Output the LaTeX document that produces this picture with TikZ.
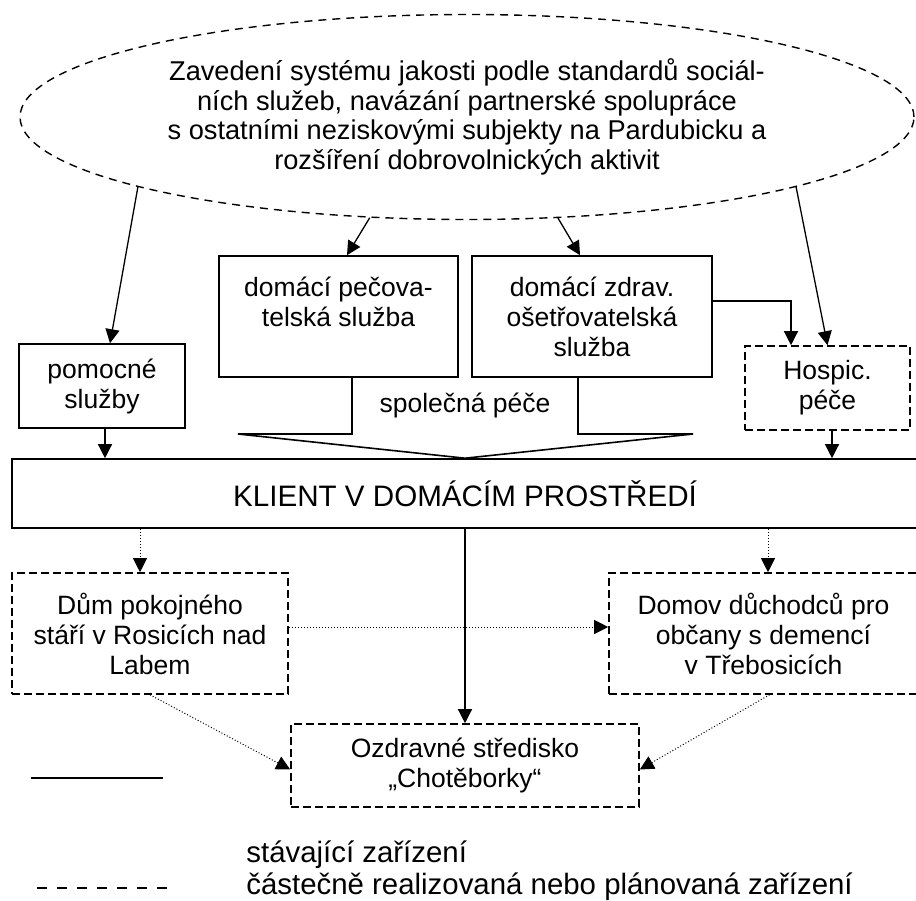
\documentclass[tikz,border=0pt]{standalone}
\usepackage{fontspec}
\setmainfont{Liberation Sans}
\usepackage{tikz}
\usetikzlibrary{positioning,arrows.meta,shapes.geometric}

\begin{document}
\begin{tikzpicture}[
  x=0.5pt, y=-0.5pt,
  font=\fontsize{13.25}{15}\selectfont,
  box/.style={draw, rectangle, line width=0.8pt, align=center, inner sep=0pt},
  plan/.style={box, dash pattern=on 4pt off 2pt},
  arr/.style={-{Triangle[length=7pt, width=7pt]}, line width=0.65pt},
  dots/.style={-{Triangle[length=7pt, width=7pt]}, line width=0.5pt, dash pattern=on 0.5pt off 1pt},
  legtext/.style={anchor=west, inner sep=0pt, font=\fontsize{14.7}{16}\selectfont}
]
\useasboundingbox (0,0) rectangle (916,900);

% Goal
\node[draw, ellipse, dash pattern=on 4pt off 3pt, line width=0.7pt, minimum width=447pt, minimum height=102.5pt, inner sep=0pt, align=center, font=\fontsize{13.6}{14.8}\selectfont] (goal) at (467,117) {Zavedení systému jakosti podle standardů sociál-\\ních služeb, navázání partnerské spolupráce\\s~ostatními neziskovými subjekty na Pardubicku a\\rozšíření dobrovolnických aktivit};

% Services
\node[box, minimum width=119.5pt, minimum height=60.5pt] (pecova) at (338.5,316.5) {domácí pečova-\\telská služba\\~};
\node[box, minimum width=120pt, minimum height=60.5pt] (zdrav) at (592,316.5) {domácí zdrav.\\ošetřovatelská\\služba};
\node[box, minimum width=83pt, minimum height=42pt] (pomocne) at (102,386) {pomocné\\služby};
\node[plan, minimum width=82.5pt, minimum height=42pt] (hospic) at (827.5,388) {Hospic.\\péče};
\node (spol) at (465,405) {společná péče};

% Client
\node[box, minimum width=453pt, minimum height=34.5pt, font=\fontsize{14.8}{18}\selectfont] (klient) at (465,493.5) {KLIENT V DOMÁCÍM PROSTŘEDÍ};

% Facilities
\node[plan, minimum width=138pt, minimum height=60.5pt] (dum) at (150,633.5) {Dům pokojného\\stáří v~Rosicích nad\\Labem};
\node[plan, minimum width=154.5pt, minimum height=60.5pt] (domov) at (763.5,633.5) {Domov důchodců pro\\občany s~demencí\\v~Třebosicích};
\node[plan, minimum width=174pt, minimum height=41.5pt] (ozdrav) at (465,765.5) {Ozdravné středisko\\„Chotěborky“};

% shared care
\draw[line width=0.8pt] ([xshift=6.75pt]pecova.south) -- (352,434) -- (238,434) -- (klient.north)
  -- (693,434) -- (578,434) -- ([xshift=-7pt]zdrav.south);

\draw[arr] (goal.192) -- ([xshift=4pt]pomocne.north);
\draw[arr] (goal.226) -- ([xshift=4.25pt]pecova.north);
\draw[arr] (goal.312) -- ([xshift=-6pt]zdrav.north);
\draw[arr] (goal.348) -- (hospic.north);
\draw[arr] ([yshift=7.75pt]zdrav.east) -| ([xshift=-18.25pt]hospic.north);
\draw[arr] ([xshift=1.5pt]pomocne.south) -- ([xshift=1.5pt]pomocne.south |- klient.north);
\draw[arr] ([xshift=2.25pt]hospic.south) -- ([xshift=2.25pt]hospic.south |- klient.north);

\draw[dots] ([xshift=-5pt]dum.north |- klient.south) -- ([xshift=-5pt]dum.north);
\draw[dots] ([xshift=2.25pt]domov.north |- klient.south) -- ([xshift=2.25pt]domov.north);
\draw[arr] (klient.south) -- (ozdrav.north);
\draw[dots] ([yshift=3.25pt]dum.east) -- ([yshift=3.25pt]dum.east -| domov.west);
\draw[dots] (dum.south) -- ([yshift=-2pt]ozdrav.west);
\draw[dots] ([xshift=3pt]domov.south) -- ([yshift=-2pt]ozdrav.east);

% legend
\draw[line width=0.8pt] (31,778) -- (163,778);
\draw[line width=0.8pt, dash pattern=on 5pt off 5pt] (37,888) -- (168,888);
\node[legtext] (stav) at (246,855) {stávající zařízení};
\node[legtext] (legplan) at (246,887) {částečně realizovaná nebo plánovaná zařízení};

\end{tikzpicture}
\end{document}
